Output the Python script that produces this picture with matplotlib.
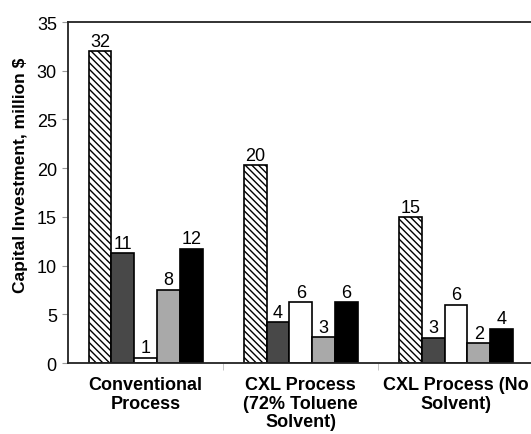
import matplotlib
matplotlib.use('Agg')
import matplotlib.pyplot as plt
import numpy as np

plt.rcParams['font.family'] = ['Liberation Sans', 'DejaVu Sans']
plt.rcParams['hatch.linewidth'] = 1.0

categories = ['Conventional\nProcess', 'CXL Process\n(72% Toluene\nSolvent)', 'CXL Process (No\nSolvent)']

# five cost components per process (million $)
series_1 = [32.0, 20.3, 15.0]
series_2 = [11.3, 4.2, 2.6]
series_3 = [0.55, 6.25, 6.0]
series_4 = [7.55, 2.65, 2.05]
series_5 = [11.75, 6.25, 3.55]

labels_1 = ['32', '20', '15']
labels_2 = ['11', '4', '3']
labels_3 = ['1', '6', '6']
labels_4 = ['8', '3', '2']
labels_5 = ['12', '6', '4']

yticks = [0, 5, 10, 15, 20, 25, 30, 35]

fig = plt.figure(figsize=(5.31, 4.35), dpi=100)
ax = fig.add_axes([0.128, 0.163, 0.877, 0.784])

x = np.arange(len(categories))
w = 0.147
styles = [
    dict(facecolor='white', hatch='\\' * 5),
    dict(facecolor='#484848'),
    dict(facecolor='white'),
    dict(facecolor='#a9a9a9'),
    dict(facecolor='black'),
]
all_vals = [series_1, series_2, series_3, series_4, series_5]
all_labels = [labels_1, labels_2, labels_3, labels_4, labels_5]

for i, (vals, labs, st) in enumerate(zip(all_vals, all_labels, styles)):
    bars = ax.bar(x + (i - 2) * w, vals, w, edgecolor='black', linewidth=1.2, **st)
    ax.bar_label(bars, labels=labs, padding=1, fontsize=13)

ax.set_xlim(-0.5, 2.5)
ax.set_ylim(0, 35)
ax.set_yticks(yticks)
ax.tick_params(axis='y', labelsize=13, length=4, color='#999999', direction='out', pad=4)
ax.set_xticks(x)
ax.set_xticklabels(categories, fontsize=13, fontweight='bold', linespacing=1.15)
ax.tick_params(axis='x', length=0, pad=9)
ax.set_xticks([0.5, 1.5], minor=True)
ax.tick_params(axis='x', which='minor', length=5, color='#bbbbbb')

ax.set_ylabel('Capital Investment, million $', fontsize=12.5, fontweight='bold')
ax.yaxis.set_label_coords(-0.086, 0.554)

for s in ['left', 'bottom', 'top']:
    ax.spines[s].set_linewidth(1.3)
    ax.spines[s].set_color('#222222')
ax.spines['right'].set_visible(False)

fig.savefig('out.png', dpi=100)
